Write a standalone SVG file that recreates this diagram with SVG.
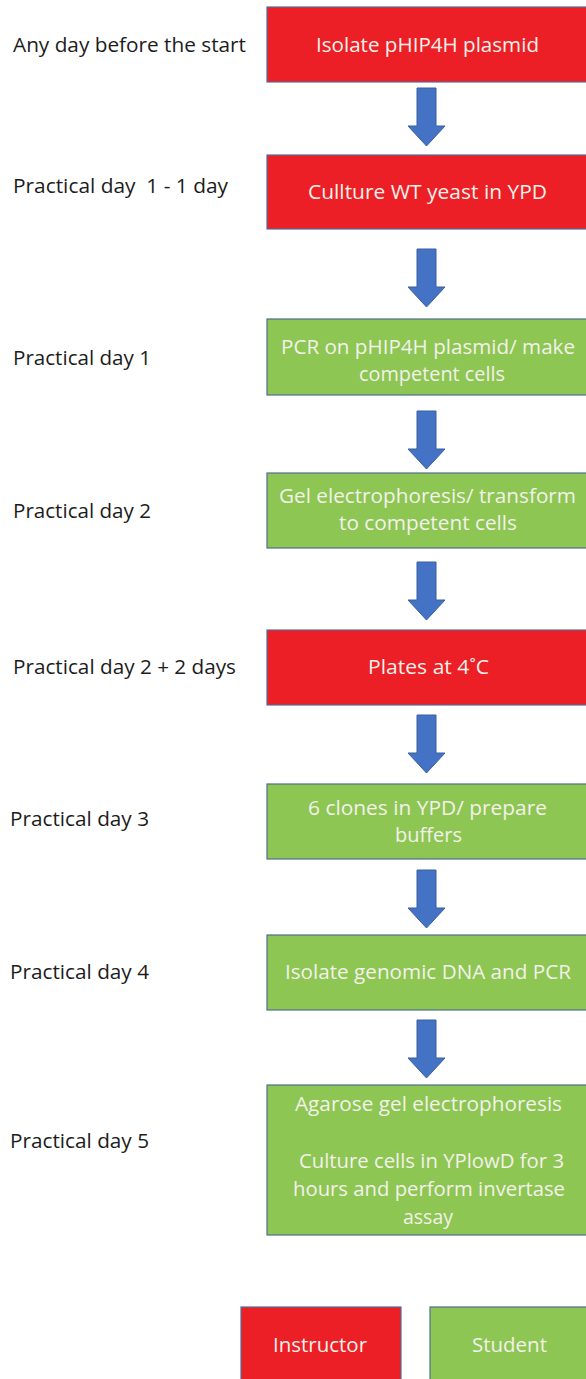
<svg xmlns="http://www.w3.org/2000/svg" xmlns:xlink="http://www.w3.org/1999/xlink" width="586" height="1379" viewBox="0 0 586 1379">
<style>
.lbl{font-family:"Open Sans","Liberation Sans",sans-serif;font-size:19.5px;fill:#1c1c1c}
.bt{font-family:"Open Sans","Liberation Sans",sans-serif;font-size:19.5px;fill:#f3f1ea;text-anchor:middle}
.red{fill:#ec1f26;stroke:#5a6a9a;stroke-width:1.2}
.grn{fill:#8dc653;stroke:#4f6f8f;stroke-width:1.2}
.arr{fill:#4472c4;stroke:#3a5f9e;stroke-width:1}
</style>
<defs>
<path id="dn" d="M -9.5 0 H 9.5 V 38 H 18.5 L 0 58 L -18.5 38 H -9.5 Z"/>
</defs>
<rect width="586" height="1379" fill="#ffffff"/>
<g id="labels">
<text class="lbl" x="13" y="52" textLength="233" lengthAdjust="spacingAndGlyphs">Any day before the start</text>
<text class="lbl" x="13" y="193" textLength="215" lengthAdjust="spacingAndGlyphs" xml:space="preserve">Practical day  1 - 1 day</text>
<text class="lbl" x="13" y="365" textLength="138" lengthAdjust="spacingAndGlyphs">Practical day 1</text>
<text class="lbl" x="13" y="518" textLength="138" lengthAdjust="spacingAndGlyphs">Practical day 2</text>
<text class="lbl" x="13" y="674" textLength="223" lengthAdjust="spacingAndGlyphs">Practical day 2 + 2 days</text>
<text class="lbl" x="10" y="826" textLength="139" lengthAdjust="spacingAndGlyphs">Practical day 3</text>
<text class="lbl" x="10" y="979" textLength="139" lengthAdjust="spacingAndGlyphs">Practical day 4</text>
<text class="lbl" x="10" y="1148" textLength="139" lengthAdjust="spacingAndGlyphs">Practical day 5</text>
</g>
<g id="connectors">
<use xlink:href="#dn" href="#dn" class="arr" transform="translate(426.5 88)"/>
<use xlink:href="#dn" href="#dn" class="arr" transform="translate(426.5 249)"/>
<use xlink:href="#dn" href="#dn" class="arr" transform="translate(426.5 411)"/>
<use xlink:href="#dn" href="#dn" class="arr" transform="translate(426.5 562)"/>
<use xlink:href="#dn" href="#dn" class="arr" transform="translate(426.5 715)"/>
<use xlink:href="#dn" href="#dn" class="arr" transform="translate(426.5 870)"/>
<use xlink:href="#dn" href="#dn" class="arr" transform="translate(426.5 1020)"/>
</g>
<g id="n1">
<rect class="red" x="267" y="7" width="330" height="75"/>
<text class="bt" x="427.5" y="52" textLength="223" lengthAdjust="spacingAndGlyphs">Isolate pHIP4H plasmid</text>
</g>
<g id="n2">
<rect class="red" x="267" y="155" width="330" height="74"/>
<text class="bt" x="427.5" y="199" textLength="239" lengthAdjust="spacingAndGlyphs">Cullture WT yeast in YPD</text>
</g>
<g id="n3">
<rect class="grn" x="267" y="319" width="330" height="76"/>
<text class="bt" x="428" y="354" textLength="294" lengthAdjust="spacingAndGlyphs">PCR on pHIP4H plasmid/ make</text>
<text class="bt" x="432" y="381" textLength="146" lengthAdjust="spacingAndGlyphs">competent cells</text>
</g>
<g id="n4">
<rect class="grn" x="267" y="473" width="330" height="75"/>
<text class="bt" x="427.5" y="503" textLength="297" lengthAdjust="spacingAndGlyphs">Gel electrophoresis/ transform</text>
<text class="bt" x="428" y="530" textLength="178" lengthAdjust="spacingAndGlyphs">to competent cells</text>
</g>
<g id="n5">
<rect class="red" x="267" y="630" width="330" height="75"/>
<text class="bt" x="428.5" y="674" textLength="121" lengthAdjust="spacingAndGlyphs">Plates at 4˚C</text>
</g>
<g id="n6">
<rect class="grn" x="267" y="784" width="330" height="75"/>
<text class="bt" x="427.5" y="815" textLength="239" lengthAdjust="spacingAndGlyphs">6 clones in YPD/ prepare</text>
<text class="bt" x="428.5" y="842" textLength="67" lengthAdjust="spacingAndGlyphs">buffers</text>
</g>
<g id="n7">
<rect class="grn" x="267" y="935" width="330" height="75"/>
<text class="bt" x="428" y="979" textLength="286" lengthAdjust="spacingAndGlyphs">Isolate genomic DNA and PCR</text>
</g>
<g id="n8">
<rect class="grn" x="267" y="1085" width="330" height="150"/>
<text class="bt" x="428.5" y="1111" textLength="267" lengthAdjust="spacingAndGlyphs">Agarose gel electrophoresis</text>
<text class="bt" x="431.5" y="1168" textLength="265" lengthAdjust="spacingAndGlyphs">Culture cells in YPlowD for 3</text>
<text class="bt" x="429" y="1196" textLength="272" lengthAdjust="spacingAndGlyphs">hours and perform invertase</text>
<text class="bt" x="428" y="1224" textLength="50" lengthAdjust="spacingAndGlyphs">assay</text>
</g>
<g id="legend-instructor">
<rect class="red" x="241" y="1307" width="160" height="80"/>
<text class="bt" x="320" y="1352" textLength="94" lengthAdjust="spacingAndGlyphs">Instructor</text>
</g>
<g id="legend-student">
<rect class="grn" x="430" y="1307" width="170" height="80"/>
<text class="bt" x="509.5" y="1352" textLength="75" lengthAdjust="spacingAndGlyphs">Student</text>
</g>
</svg>
